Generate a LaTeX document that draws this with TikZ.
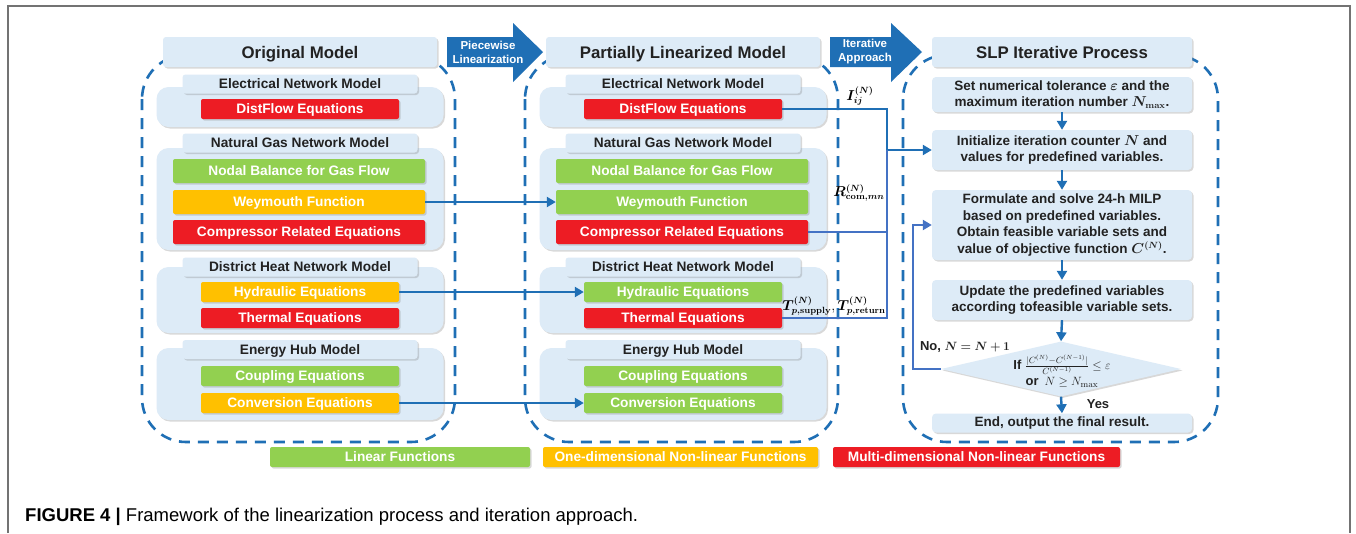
\documentclass[tikz,border=0pt]{standalone}
\usepackage[no-math]{fontspec}
\usepackage{amsmath,amssymb,bm}
\setmainfont{Liberation Sans}
\usetikzlibrary{arrows.meta,shapes.geometric,shadows}
\definecolor{flowblue}{RGB}{31,111,181}
\definecolor{loopblue}{RGB}{68,114,196}
\definecolor{paleblue}{RGB}{221,235,247}
\definecolor{lingreen}{RGB}{146,208,80}
\definecolor{oneorange}{RGB}{255,192,0}
\definecolor{multired}{RGB}{237,28,36}
\definecolor{headtext}{RGB}{34,34,34}

\begin{document}
\begin{tikzpicture}[x=1pt,y=-1pt,>={Triangle[length=9pt,width=10pt]},
  boxshadow/.style={drop shadow={shadow xshift=1.5pt,shadow yshift=-1.5pt,opacity=.3}},
  colframe/.style={draw=flowblue,line width=2.6pt,dash pattern=on 11pt off 8pt,rounded corners=44pt},
  coltitle/.style={fill=paleblue,rounded corners=3pt,boxshadow,minimum width=274pt,minimum height=30pt,inner sep=0pt,text height=12pt,text depth=0pt,font=\fontsize{16.8}{18}\selectfont\bfseries,text=headtext},
  panel/.style={fill=paleblue,rounded corners=12pt,boxshadow,minimum width=287pt,inner sep=0pt},
  modelhead/.style={fill=paleblue,rounded corners=3pt,boxshadow,minimum width=235pt,minimum height=19pt,inner sep=0pt,text height=9.8pt,text depth=0pt,font=\fontsize{13.7}{15}\selectfont\bfseries,text=headtext},
  eq/.style={rounded corners=2pt,boxshadow,minimum width=198pt,minimum height=20pt,inner sep=0pt,text height=9.8pt,text depth=0pt,text=white,font=\fontsize{13.7}{15}\selectfont\bfseries},
  wide/.style={minimum width=252pt,minimum height=24pt},
  linfn/.style={eq,fill=lingreen},
  onefn/.style={eq,fill=oneorange},
  multifn/.style={eq,fill=multired},
  arrowtext/.style={text=white,align=center,inner sep=0pt,font=\fontsize{11.5}{14}\selectfont\bfseries},
  stepbox/.style={fill=paleblue,rounded corners=4pt,boxshadow,minimum width=260pt,align=center,inner sep=0pt,font=\fontsize{13.5}{16.5}\selectfont\bfseries\boldmath,text=headtext},
  cond/.style={diamond,fill=paleblue,boxshadow,minimum width=240pt,minimum height=55pt,inner sep=0pt},
  condtext/.style={align=center,inner sep=0pt,font=\fontsize{13}{15}\selectfont\bfseries,text=headtext},
  varlabel/.style={inner sep=0pt,font=\fontsize{13.5}{15}\selectfont},
  flow/.style={->,draw=flowblue,line width=2.4pt},
  loopflow/.style={->,draw=loopblue,line width=2.2pt}]
  \useasboundingbox (0,0) rectangle (1356,533);
  \fill[white] (0,0) rectangle (1356,533);
  \draw[black!55,line width=1.5pt] (8,533) -- (8,6) -- (1350,6) -- (1350,533);
  % dashed frames of the three stages
  \draw[colframe] (142,55) rectangle (455,442);
  \draw[colframe] (525,55) rectangle (838,442);
  \draw[colframe] (903,55) rectangle (1218,442);
  % original model
  \node[panel,minimum height=40pt] (aelec) at (300,107) {};
  \node[panel,minimum height=102pt] (agas) at (300,199) {};
  \node[panel,minimum height=66pt] (aheat) at (300,300) {};
  \node[panel,minimum height=72pt] (ahub) at (300,384) {};
  \node[coltitle] (atitle) at (300,52) {Original Model};
  \node[modelhead] (aelechead) at (300,84) {Electrical Network Model};
  \node[modelhead] (agashead) at (300,143) {Natural Gas Network Model};
  \node[modelhead] (aheathead) at (300,267) {District Heat Network Model};
  \node[modelhead] (ahubhead) at (300,349.5) {Energy Hub Model};
  \node[multifn] (adist) at (300,109) {DistFlow Equations};
  \node[linfn,wide] (anodal) at (299,171) {Nodal Balance for Gas Flow};
  \node[onefn,wide] (aweym) at (299,202) {Weymouth Function};
  \node[multifn,wide] (acomp) at (299,232) {Compressor Related Equations};
  \node[onefn] (ahydr) at (300,292) {Hydraulic Equations};
  \node[multifn] (atherm) at (300,318) {Thermal Equations};
  \node[linfn] (acoup) at (300,376) {Coupling Equations};
  \node[onefn] (aconv) at (300,403) {Conversion Equations};
  % partially linearized model
  \node[panel,minimum height=40pt] (belec) at (683,107) {};
  \node[panel,minimum height=102pt] (bgas) at (683,199) {};
  \node[panel,minimum height=66pt] (bheat) at (683,300) {};
  \node[panel,minimum height=72pt] (bhub) at (683,384) {};
  \node[coltitle] (btitle) at (683,52) {Partially Linearized Model};
  \node[modelhead] (belechead) at (683,84) {Electrical Network Model};
  \node[modelhead] (bgashead) at (683,143) {Natural Gas Network Model};
  \node[modelhead] (bheathead) at (683,267) {District Heat Network Model};
  \node[modelhead] (bhubhead) at (683,349.5) {Energy Hub Model};
  \node[multifn] (bdist) at (683,109) {DistFlow Equations};
  \node[linfn,wide] (bnodal) at (682,171) {Nodal Balance for Gas Flow};
  \node[linfn,wide] (bweym) at (682,202) {Weymouth Function};
  \node[multifn,wide] (bcomp) at (682,232) {Compressor Related Equations};
  \node[linfn] (bhydr) at (683,292) {Hydraulic Equations};
  \node[multifn] (btherm) at (683,318) {Thermal Equations};
  \node[linfn] (bcoup) at (683,376) {Coupling Equations};
  \node[linfn] (bconv) at (683,403) {Conversion Equations};
  % stage arrows
  \fill[flowblue] (447,37) -- (513,37) -- (513,23) -- (543,52) -- (513,82) -- (513,67) -- (447,67) -- cycle;
  \node[arrowtext] (pwlin) at (488,52) {Piecewise\\Linearization};
  \fill[flowblue] (830,37) -- (891,37) -- (891,23) -- (922,52) -- (891,82) -- (891,67) -- (830,67) -- cycle;
  \node[arrowtext] (iterapp) at (865,52) {Iterative\\Approach};
  % SLP iterative process
  \node[coltitle,minimum width=260pt] (ctitle) at (1062,52) {SLP Iterative Process};
  \node[stepbox,minimum height=35pt] (sinit) at (1062,94.5) {Set numerical tolerance $\varepsilon$ and the\\maximum iteration number $N_{\max}$.};
  \node[stepbox,minimum height=40pt] (scount) at (1062,150) {Initialize iteration counter $N$ and\\values for predefined variables.};
  \node[stepbox,minimum height=70pt] (smilp) at (1062,225) {Formulate and solve 24-h MILP\\based on predefined variables.\\Obtain feasible variable sets and\\value of objective function $C^{(N)}$.};
  \node[stepbox,minimum height=40pt] (supd) at (1062,300) {Update the predefined variables\\according tofeasible variable sets.};
  \node[cond] (scheck) at (1061,369) {};
  \node[condtext] (schecktext) at (1062,371) {If $\frac{|C^{(N)}-C^{(N-1)}|}{C^{(N-1)}}\le\varepsilon$\\[1pt]or\, $N\ge N_{\max}$};
  \node[stepbox,minimum height=19pt] (send) at (1062,423) {End, output the final result.};
  \draw[flow] (sinit.south) -- (scount.north);
  \draw[flow] (scount.south) -- (smilp.north);
  \draw[flow] (smilp.south) -- (supd.north);
  \draw[flow] (supd.south) -- (scheck.north);
  \draw[flow] (scheck.south) -- (send.north);
  \coordinate (noturn) at (913,369);
  \draw[loopflow] (scheck.west) -- (noturn) |- (smilp.west);
  \node[condtext] (nolabel) at (965,347) {No, $\bm{N=N+1}$};
  \node[condtext] (yeslabel) at (1098,404) {Yes};
  % links between the stages
  \draw[flow] (aweym.east) -- (bweym.west);
  \draw[flow] (ahydr.east) -- (bhydr.west);
  \draw[flow] (aconv.east) -- (bconv.west);
  \coordinate (bus) at (887,150);
  \draw[flow] (bdist.east) -| (bus) -- (scount.west);
  \draw[loopflow,-] (bcomp.east) -| (bus);
  \draw[loopflow,-] (btherm.east) -| (bus);
  \node[varlabel] (ilabel) at (860,96) {$\bm{I_{ij}^{(N)}}$};
  \node[varlabel] (rlabel) at (859,193) {$\bm{R^{(N)}_{\mathbf{com},mn}}$};
  \node[varlabel] (tlabel) at (834,306) {$\bm{T^{(N)}_{p,\mathbf{supply}}},\bm{T^{(N)}_{p,\mathbf{return}}}$};
  % legend
  \node[linfn,minimum width=260pt] (keylin) at (400,457) {Linear Functions};
  \node[onefn,minimum width=275pt] (keyone) at (680.5,457) {One-dimensional Non-linear Functions};
  \node[multifn,minimum width=287pt] (keymulti) at (976.5,457) {Multi-dimensional Non-linear Functions};
  \node[anchor=base west,inner sep=0pt,font=\fontsize{18.5}{20}\selectfont] (caption) at (25,521) {\textbf{FIGURE 4 |} Framework of the linearization process and iteration approach.};
\end{tikzpicture}
\end{document}
